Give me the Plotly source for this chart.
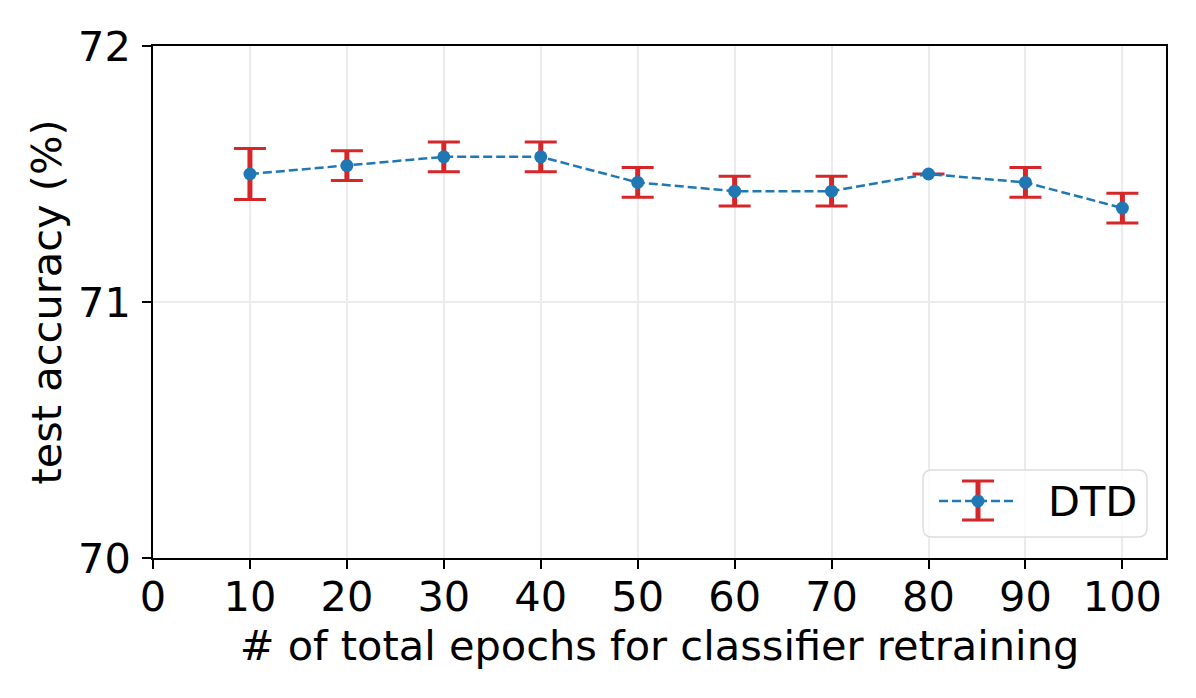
import plotly.graph_objects as go

epochs = [10, 20, 30, 40, 50, 60, 70, 80, 90, 100]
accuracy = [71.50, 71.533, 71.567, 71.567, 71.467, 71.433, 71.433, 71.50, 71.467, 71.367]
err = [0.10, 0.058, 0.058, 0.058, 0.058, 0.058, 0.058, 0.0, 0.058, 0.058]
series_name = "DTD"
x_ticks = [0, 10, 20, 30, 40, 50, 60, 70, 80, 90, 100]
y_ticks = [70, 71, 72]

W, H = 1196, 698
L, R, T, B = 153, 30, 46, 140
PW, PH = W - L - R, H - T - B

BLUE = "#1f77b4"
RED = "#d62728"
FONT = "DejaVu Sans"
FS = 41.5
DASH = "9px,4px"

fig = go.Figure()
# thick vertical error bars (no caps)
fig.add_trace(go.Scatter(
    x=epochs, y=accuracy, mode="markers", marker=dict(size=0.1, opacity=0),
    error_y=dict(type="data", array=err, visible=True, color=RED, thickness=5, width=0),
    showlegend=False, hoverinfo="skip"))
# caps
fig.add_trace(go.Scatter(
    x=epochs, y=accuracy, mode="markers", marker=dict(size=0.1, opacity=0),
    error_y=dict(type="data", array=err, visible=True, color=RED, thickness=3, width=16),
    showlegend=False, hoverinfo="skip"))
# line + markers
fig.add_trace(go.Scatter(
    x=epochs, y=accuracy, mode="lines+markers", name=series_name,
    line=dict(color=BLUE, width=2.5, dash=DASH),
    marker=dict(color=BLUE, size=13),
    showlegend=False))

def px(xp):
    return (xp - L) / PW

def py(yp):
    return (T + PH - yp) / PH

shapes = []
# legend box (rounded)
x0, x1, y0, y1 = 923, 1147, 470, 537
r = 9
rx, ry = r / PW, r / PH
X0, X1, Y0, Y1 = px(x0), px(x1), py(y1), py(y0)
path = (f"M {X0+rx},{Y0} L {X1-rx},{Y0} Q {X1},{Y0} {X1},{Y0+ry} "
        f"L {X1},{Y1-ry} Q {X1},{Y1} {X1-rx},{Y1} L {X0+rx},{Y1} "
        f"Q {X0},{Y1} {X0},{Y1-ry} L {X0},{Y0+ry} Q {X0},{Y0} {X0+rx},{Y0} Z")
shapes.append(dict(type="path", xref="paper", yref="paper", path=path,
                   fillcolor="rgba(255,255,255,0.8)",
                   line=dict(color="#dddddd", width=1.5), layer="above"))
ly = 501
cx = 978
shapes.append(dict(type="line", xref="paper", yref="paper",
                   x0=px(939), x1=px(1016), y0=py(ly), y1=py(ly),
                   line=dict(color=BLUE, width=2.5, dash=DASH), layer="above"))
shapes.append(dict(type="line", xref="paper", yref="paper",
                   x0=px(cx), x1=px(cx), y0=py(481), y1=py(520),
                   line=dict(color=RED, width=5), layer="above"))
for yy in (481, 520):
    shapes.append(dict(type="line", xref="paper", yref="paper",
                       x0=px(cx - 16), x1=px(cx + 16), y0=py(yy), y1=py(yy),
                       line=dict(color=RED, width=3), layer="above"))
mr = 6.5
shapes.append(dict(type="circle", xref="paper", yref="paper",
                   x0=px(cx - mr), x1=px(cx + mr), y0=py(ly + mr), y1=py(ly - mr),
                   fillcolor=BLUE, line=dict(color=BLUE, width=0), layer="above"))

fig.update_layout(
    width=W, height=H,
    margin=dict(l=L, r=R, t=T, b=B),
    plot_bgcolor="white", paper_bgcolor="white",
    font=dict(family=FONT, size=FS, color="black"),
    shapes=shapes,
    annotations=[dict(text=series_name, xref="paper", yref="paper",
                      x=px(1046), y=py(ly), xanchor="left", yanchor="middle",
                      showarrow=False, font=dict(family=FONT, size=FS, color="black"))],
    xaxis=dict(range=[0, 104.5], tickvals=x_ticks, ticktext=[str(t) for t in x_ticks],
               showline=True, linecolor="black", linewidth=1.6, mirror=True,
               ticks="outside", ticklen=9, tickwidth=1.6, tickcolor="black",
               showgrid=True, gridcolor="#ebebeb", gridwidth=1.5, zeroline=False,
               ticklabelstandoff=-8,
               title=dict(text="# of total epochs for classifier retraining", standoff=0,
                          font=dict(size=FS)),
               tickfont=dict(size=FS)),
    yaxis=dict(range=[70, 72], tickvals=y_ticks, ticktext=[str(t) for t in y_ticks],
               showline=True, linecolor="black", linewidth=1.6, mirror=True,
               ticks="outside", ticklen=9, tickwidth=1.6, tickcolor="black",
               showgrid=True, gridcolor="#ebebeb", gridwidth=1.5, zeroline=False,
               ticklabelstandoff=3,
               title=dict(text="test accuracy (%)", standoff=4, font=dict(size=FS)),
               tickfont=dict(size=FS)),
)

fig.write_html("out.html", config={"displayModeBar": False},
               post_script="document.body.style.margin='0';document.body.style.padding='0';")
